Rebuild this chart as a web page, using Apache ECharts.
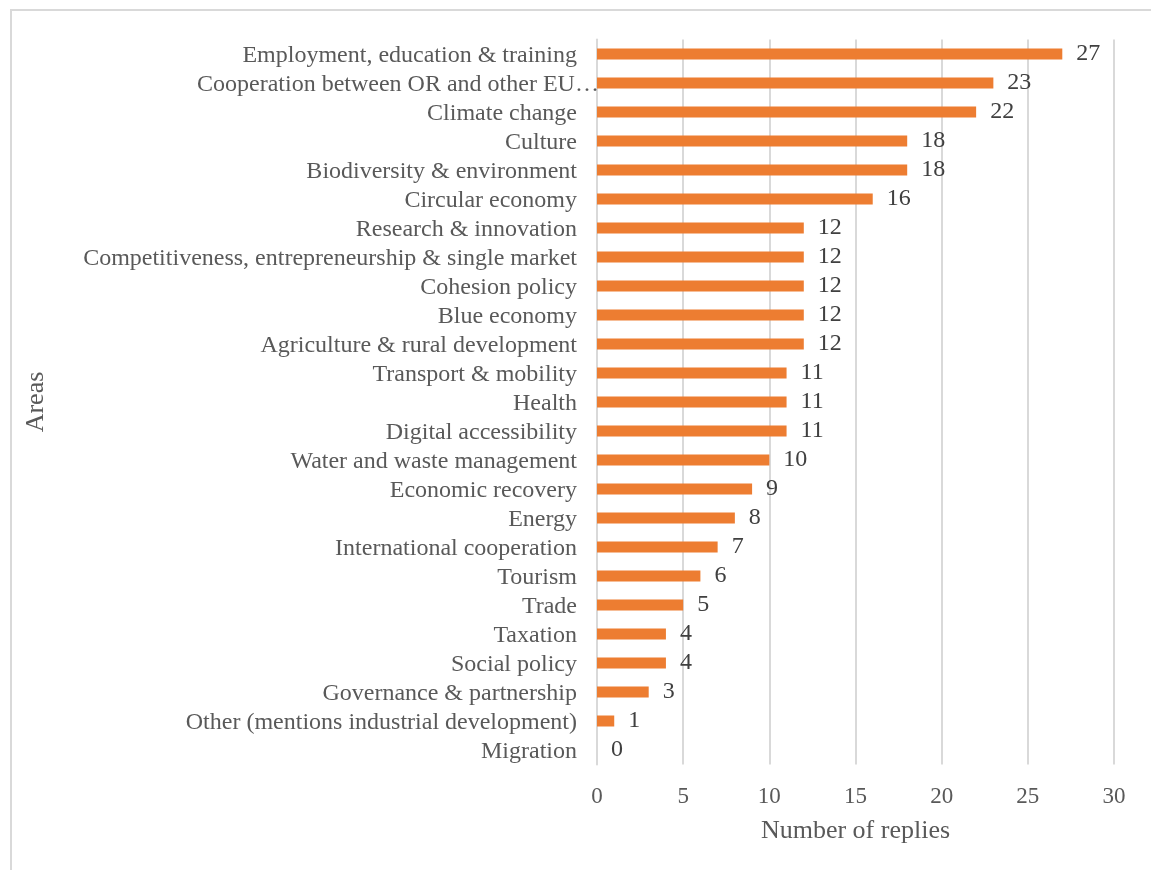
<!DOCTYPE html>
<html>
<head>
<meta charset="utf-8">
<script src="https://cdn.jsdelivr.net/npm/echarts@6/dist/echarts.min.js"></script>
<style>
html,body{margin:0;padding:0;background:#fff;}
#chart{width:1151px;height:870px;}
</style>
</head>
<body>
<div id="chart"></div>
<script>
// Categories listed top to bottom
const categories = [
  "Employment, education & training",
  "Cooperation between OR and other EU\u2026",
  "Climate change",
  "Culture",
  "Biodiversity & environment",
  "Circular economy",
  "Research & innovation",
  "Competitiveness, entrepreneurship & single market",
  "Cohesion policy",
  "Blue economy",
  "Agriculture & rural development",
  "Transport & mobility",
  "Health",
  "Digital accessibility",
  "Water and waste management",
  "Economic recovery",
  "Energy",
  "International cooperation",
  "Tourism",
  "Trade",
  "Taxation",
  "Social policy",
  "Governance & partnership",
  "Other (mentions industrial development)",
  "Migration"
];
const replies = [27, 23, 22, 18, 18, 16, 12, 12, 12, 12, 12, 11, 11, 11, 10, 9, 8, 7, 6, 5, 4, 4, 3, 1, 0];
const xTicks = [0, 5, 10, 15, 20, 25, 30];

const font = "'Liberation Serif', 'Times New Roman', serif";
const txt = '#595959';

const chart = echarts.init(document.getElementById('chart'));
chart.setOption({
  animation: false,
  backgroundColor: '#fff',
  textStyle: {fontFamily: font},
  graphic: [{
    type: 'polyline',
    shape: {points: [[11, 870], [11, 10], [1151, 10]]},
    style: {stroke: '#d9d9d9', lineWidth: 2, fill: null}
  }],
  grid: {left: 597, right: 37, top: 39.5, bottom: 105.5, containLabel: false},
  xAxis: {
    type: 'value',
    min: xTicks[0],
    max: xTicks[xTicks.length - 1],
    interval: 5,
    name: 'Number of replies',
    nameLocation: 'middle',
    nameGap: 54,
    nameTextStyle: {fontFamily: font, fontSize: 26, color: txt},
    axisLine: {show: false},
    axisTick: {show: false},
    axisLabel: {fontFamily: font, fontSize: 23, color: txt, margin: 21},
    splitLine: {show: true, lineStyle: {color: '#d9d9d9', width: 2}}
  },
  yAxis: {
    type: 'category',
    data: categories,
    inverse: true,
    name: 'Areas',
    nameLocation: 'middle',
    nameGap: 548,
    nameRotate: 90,
    nameTextStyle: {fontFamily: font, fontSize: 26, color: txt},
    axisLine: {show: true, lineStyle: {color: '#d9d9d9', width: 2}},
    axisTick: {show: false},
    axisLabel: {
      interval: 0, fontFamily: font, fontSize: 24, color: txt, margin: 20, padding: [4, 0, 0, 0],
      formatter: function (v) {
        return v.indexOf('\u2026') >= 0 ? '{w|' + v + '}' : v;
      },
      rich: {
        w: {fontFamily: font, fontSize: 24, color: txt, width: 380, align: 'left', overflow: 'none'}
      }
    }
  },
  series: [{
    type: 'bar',
    data: replies,
    barWidth: 11,
    itemStyle: {color: '#ED7D31'},
    label: {show: true, position: 'right', distance: 14, fontFamily: font, fontSize: 24, color: '#404040', padding: [5, 0, 0, 0]}
  }]
});
</script>
</body>
</html>
